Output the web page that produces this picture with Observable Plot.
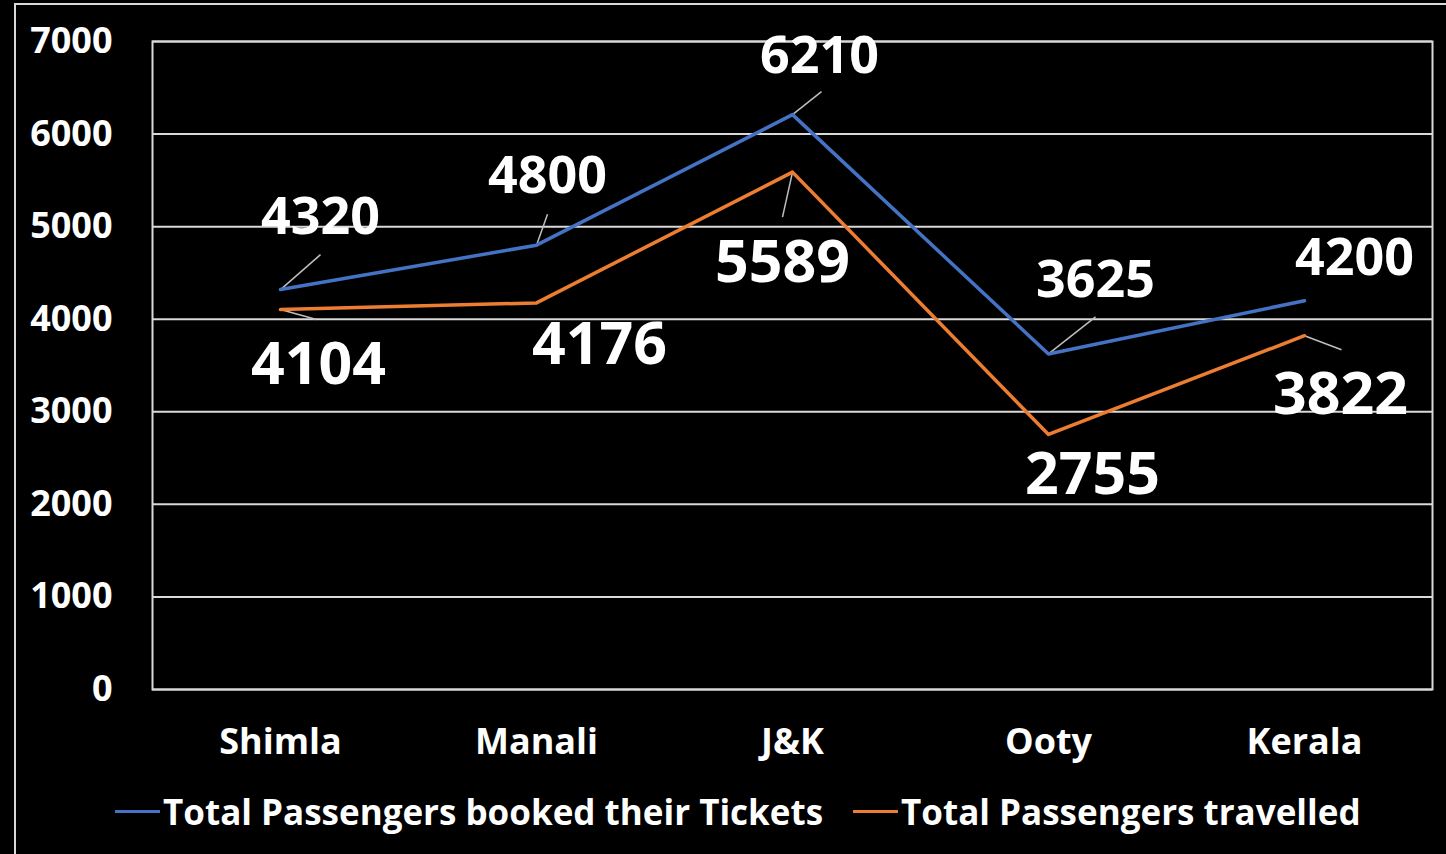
<!DOCTYPE html>
<html>
<head>
<meta charset="utf-8">
<script src="https://cdn.jsdelivr.net/npm/d3@7"></script>
<script src="https://cdn.jsdelivr.net/npm/@observablehq/plot@0.6"></script>
<style>
  html, body { margin: 0; padding: 0; background: #000; }
  body { width: 1446px; height: 854px; overflow: hidden; position: relative; font-family: "Open Sans", sans-serif; }
  #border { position: absolute; left: 14px; top: 3px; width: 1500px; height: 900px; border: 2px solid #d9d9d9; box-sizing: border-box; pointer-events: none; }
  #chart { position: absolute; left: 0; top: 0; }
  #legend { position: absolute; left: 115px; top: 788px; display: flex; align-items: center; color: #fff; font-weight: 700; font-size: 35px; white-space: nowrap; }
  .item { display: flex; align-items: center; margin-right: 30px; }
  .sw { display: inline-block; width: 45px; height: 3px; margin-right: 3px; }
</style>
</head>
<body>
<div id="chart"></div>
<div id="legend"></div>
<div id="border"></div>
<script>
// ---- data ----
const categories = ["Shimla", "Manali", "J&K", "Ooty", "Kerala"];
const booked = [4320, 4800, 6210, 3625, 4200];
const travelled = [4104, 4176, 5589, 2755, 3822];
const seriesNames = ["Total Passengers booked their Tickets", "Total Passengers travelled"];
const yTicks = [0, 1000, 2000, 3000, 4000, 5000, 6000, 7000];

// ---- label placement (pixel offsets from each point) ----
const bookedLabelOffset = [[40, -72], [11, -69], [27, -58], [47, -74], [50, -42]];
const travelledLabelOffset = [[38, 56], [63, 42], [-10, 91], [44, 41], [36, 59]];
const bookedLeader = [[40, -35], [11, -31], [29, -23], [47, -37], null];
const travelledLeader = [[36, 10], null, [-10, 45], null, [37, 14]];

const colors = ["#4472C4", "#ED7D31"];

// ---- layout ----
const W = 1446, H = 775;
const mL = 152, mR = 14, mT = 41, mB = 86;
const pxPerX = (W - mL - mR) / categories.length;
const pxPerY = (H - mT - mB) / 7000;
const ux = px => px / pxPerX;
const uy = px => -px / pxPerY;

function rows(values, series, labelOff, leader) {
  return values.map((v, i) => ({
    i, v, series,
    lx: i + ux(labelOff[i][0]), ly: v + uy(labelOff[i][1]),
    hasLeader: leader[i] != null,
    ex: leader[i] ? i + ux(leader[i][0]) : i,
    ey: leader[i] ? v + uy(leader[i][1]) : v
  }));
}
const dataB = rows(booked, seriesNames[0], bookedLabelOffset, bookedLeader);
const dataT = rows(travelled, seriesNames[1], travelledLabelOffset, travelledLeader);

const font = "'Open Sans', sans-serif";

const chart = Plot.plot({
  width: W, height: H,
  marginLeft: mL, marginRight: mR, marginTop: mT, marginBottom: mB,
  style: { background: "transparent", color: "#fff", fontFamily: font },
  x: { type: "linear", domain: [-0.5, categories.length - 0.5] },
  y: { domain: [0, 7000] },
  marks: [
    Plot.gridY(yTicks, { stroke: "#d9d9d9", strokeOpacity: 1, strokeWidth: 2 }),
    Plot.frame({ stroke: "#d9d9d9", strokeWidth: 2 }),
    Plot.link([...dataB, ...dataT].filter(d => d.hasLeader), {
      x1: "i", y1: "v", x2: "ex", y2: "ey", stroke: "#bfbfbf", strokeWidth: 1.5
    }),
    Plot.line(dataT, { x: "i", y: "v", stroke: colors[1], strokeWidth: 3.5 }),
    Plot.line(dataB, { x: "i", y: "v", stroke: colors[0], strokeWidth: 3.5 }),
    Plot.text(dataB, { x: "lx", y: "ly", text: d => String(d.v), fill: "#fff", fontSize: 52, fontWeight: 700, textAnchor: "middle" }),
    Plot.text(dataT, { x: "lx", y: "ly", text: d => String(d.v), fill: "#fff", fontSize: 59, fontWeight: 700, textAnchor: "middle" }),
    Plot.axisX(d3.range(categories.length), {
      tickFormat: i => categories[i], tickSize: 0, tickPadding: 39, fontSize: 36, fontWeight: 700, label: null, fill: "#fff"
    }),
    Plot.axisY(yTicks, {
      tickFormat: d => String(d), tickSize: 0, tickPadding: 40, fontSize: 36, fontWeight: 700, label: null, fill: "#fff"
    })
  ]
});
document.getElementById("chart").appendChild(chart);

const legend = document.getElementById("legend");
seriesNames.forEach((name, k) => {
  const item = document.createElement("div");
  item.className = "item";
  const sw = document.createElement("span");
  sw.className = "sw";
  sw.style.background = colors[k];
  const t = document.createElement("span");
  t.textContent = name;
  item.appendChild(sw);
  item.appendChild(t);
  legend.appendChild(item);
});
</script>
</body>
</html>
